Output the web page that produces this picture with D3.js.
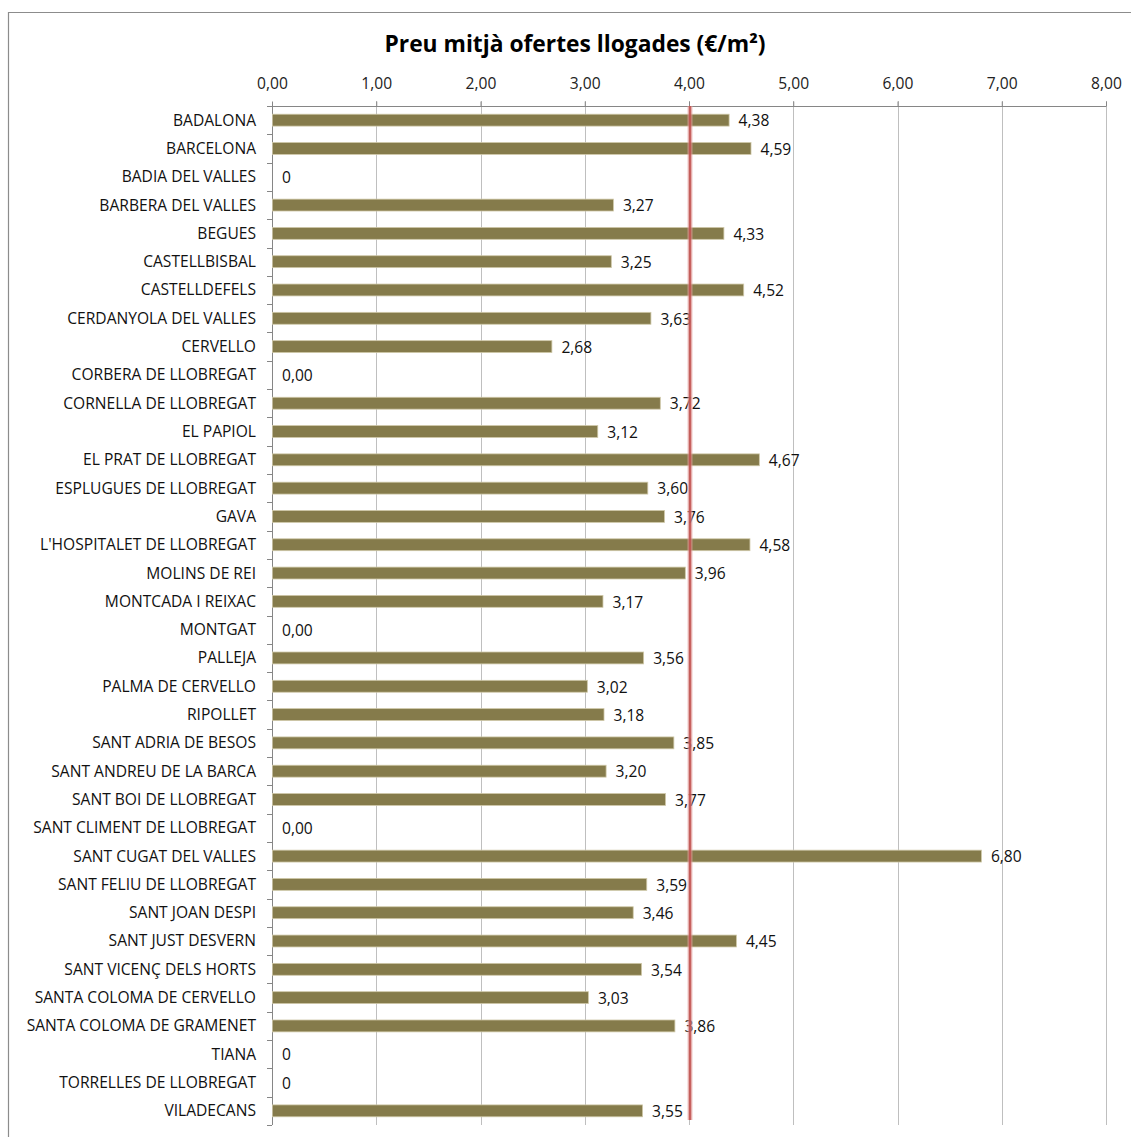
<!DOCTYPE html>
<html>
<head>
<meta charset="utf-8">
<script src="https://cdn.jsdelivr.net/npm/d3@7"></script>
<style>
  html, body { margin: 0; padding: 0; background: #fff; }
  svg { display: block; }
</style>
</head>
<body>
<svg id="chart" width="1131" height="1137"></svg>
<script>
// Municipalities, in display order (top to bottom)
const municipis = [
  "BADALONA", "BARCELONA", "BADIA DEL VALLES", "BARBERA DEL VALLES", "BEGUES",
  "CASTELLBISBAL", "CASTELLDEFELS", "CERDANYOLA DEL VALLES", "CERVELLO",
  "CORBERA DE LLOBREGAT", "CORNELLA DE LLOBREGAT", "EL PAPIOL",
  "EL PRAT DE LLOBREGAT", "ESPLUGUES DE LLOBREGAT", "GAVA",
  "L'HOSPITALET DE LLOBREGAT", "MOLINS DE REI", "MONTCADA I REIXAC", "MONTGAT",
  "PALLEJA", "PALMA DE CERVELLO", "RIPOLLET", "SANT ADRIA DE BESOS",
  "SANT ANDREU DE LA BARCA", "SANT BOI DE LLOBREGAT", "SANT CLIMENT DE LLOBREGAT",
  "SANT CUGAT DEL VALLES", "SANT FELIU DE LLOBREGAT", "SANT JOAN DESPI",
  "SANT JUST DESVERN", "SANT VICENÇ DELS HORTS", "SANTA COLOMA DE CERVELLO",
  "SANTA COLOMA DE GRAMENET", "TIANA", "TORRELLES DE LLOBREGAT", "VILADECANS"
];

// Average price of rented offers (€/m²)
const preus = [
  4.38, 4.59, 0, 3.27, 4.33,
  3.25, 4.52, 3.63, 2.68,
  0, 3.72, 3.12,
  4.67, 3.60, 3.76,
  4.58, 3.96, 3.17, 0,
  3.56, 3.02, 3.18, 3.85,
  3.20, 3.77, 0,
  6.80, 3.59, 3.46,
  4.45, 3.54, 3.03,
  3.86, 0, 0, 3.55
];

// Municipalities with no data (shown as a plain "0" instead of "0,00")
const senseDades = ["BADIA DEL VALLES", "TIANA", "TORRELLES DE LLOBREGAT"];

// Reference line (overall average)
const mitjana = 4.0;

// Axis ticks
const ticksX = [0, 1, 2, 3, 4, 5, 6, 7, 8];

const titol = "Preu mitjà ofertes llogades (€/m²)";

// ---- layout ----
const svg = d3.select("#chart");
const W = 1131, H = 1137;
const plot = { left: 272, right: 1106, top: 106, bottom: 1125 };

const x = d3.scaleLinear().domain([0, 8]).range([plot.left, plot.right]);
const y = d3.scaleBand().domain(municipis).range([plot.top, plot.bottom]).paddingInner(0.58).paddingOuter(0.29);
const yOuter = d3.scaleBand().domain(municipis).range([plot.top, plot.bottom]);

const fmt = v => d3.format(".2f")(v).replace(".", ",");
const font = "'Open Sans', 'Noto Sans', sans-serif";
const labelSize = 15.6;

// Frame around the chart
svg.append("path")
  .attr("d", `M8.5,${H} V12.5 H${W}`)
  .attr("fill", "none")
  .attr("stroke", "#8c8c8c")
  .attr("stroke-width", 1.2);

// Title
svg.append("text")
  .attr("x", 575).attr("y", 52)
  .attr("text-anchor", "middle")
  .attr("font-family", font)
  .attr("font-weight", "bold")
  .attr("font-size", 22.8)
  .attr("fill", "#000")
  .text(titol);

// Vertical gridlines (extend above the axis as tick marks)
svg.append("g")
  .selectAll("line")
  .data(ticksX.slice(1))
  .join("line")
  .attr("x1", d => Math.round(x(d)) + 0.5)
  .attr("x2", d => Math.round(x(d)) + 0.5)
  .attr("y1", plot.top - 5)
  .attr("y2", plot.bottom)
  .attr("stroke", "#bfbfbf")
  .attr("stroke-width", 1);

// Top value axis
const xAxis = d3.axisTop(x)
  .tickValues(ticksX)
  .tickFormat(fmt)
  .tickSize(5)
  .tickPadding(13);

const gx = svg.append("g")
  .attr("transform", `translate(0,${plot.top + 0.5})`)
  .call(xAxis);
gx.select(".domain").attr("stroke", "#868686").attr("d", `M${plot.left},0H${plot.right}`);
gx.selectAll(".tick line").attr("stroke", "#868686");
gx.selectAll(".tick text")
  .attr("font-family", font)
  .attr("font-size", labelSize)
  .attr("fill", "#222");

// Left category axis: ticks sit between categories
const gy = svg.append("g");
gy.append("line")
  .attr("x1", plot.left + 0.5).attr("x2", plot.left + 0.5)
  .attr("y1", plot.top).attr("y2", plot.bottom)
  .attr("stroke", "#868686");
gy.selectAll("line.sep")
  .data(municipis.concat(["__end"]))
  .join("line")
  .attr("class", "sep")
  .attr("x1", plot.left - 5).attr("x2", plot.left)
  .attr("y1", (d, i) => Math.round(plot.top + i * yOuter.step()) + 0.5)
  .attr("y2", (d, i) => Math.round(plot.top + i * yOuter.step()) + 0.5)
  .attr("stroke", "#868686");
gy.selectAll("text")
  .data(municipis)
  .join("text")
  .attr("x", plot.left - 16)
  .attr("y", d => yOuter(d) + yOuter.bandwidth() / 2)
  .attr("dy", "0.35em")
  .attr("text-anchor", "end")
  .attr("font-family", font)
  .attr("font-size", labelSize)
  .attr("fill", "#111")
  .text(d => d);

// Bars
const rows = municipis.map((m, i) => ({ m, v: preus[i] }));
svg.append("g")
  .selectAll("rect")
  .data(rows)
  .join("rect")
  .attr("x", x(0) + 0.5)
  .attr("y", d => y(d.m))
  .attr("width", d => Math.max(0, x(d.v) - x(0)))
  .attr("height", y.bandwidth())
  .attr("fill", "#857b4b")
  .attr("stroke", d => d.v > 0 ? "#cfc8a8" : "none")
  .attr("stroke-width", 0.8);

// Value labels
svg.append("g")
  .selectAll("text")
  .data(rows)
  .join("text")
  .attr("x", d => x(d.v) + 10)
  .attr("y", d => yOuter(d.m) + yOuter.bandwidth() / 2)
  .attr("dy", "0.4em")
  .attr("font-family", font)
  .attr("font-size", labelSize)
  .attr("fill", "#111")
  .text(d => senseDades.includes(d.m) ? "0" : fmt(d.v));

// Average reference line
svg.append("line")
  .attr("x1", x(mitjana) + 1).attr("x2", x(mitjana) + 1)
  .attr("y1", plot.top)
  .attr("y2", plot.bottom - 5)
  .attr("stroke", "#e8a5a3")
  .attr("stroke-width", 5)
  .attr("opacity", 0.6);
svg.append("line")
  .attr("x1", x(mitjana) + 1).attr("x2", x(mitjana) + 1)
  .attr("y1", plot.top)
  .attr("y2", plot.bottom - 5)
  .attr("stroke", "#c0504d")
  .attr("stroke-width", 2.5)
  .attr("opacity", 0.85);
</script>
</body>
</html>
